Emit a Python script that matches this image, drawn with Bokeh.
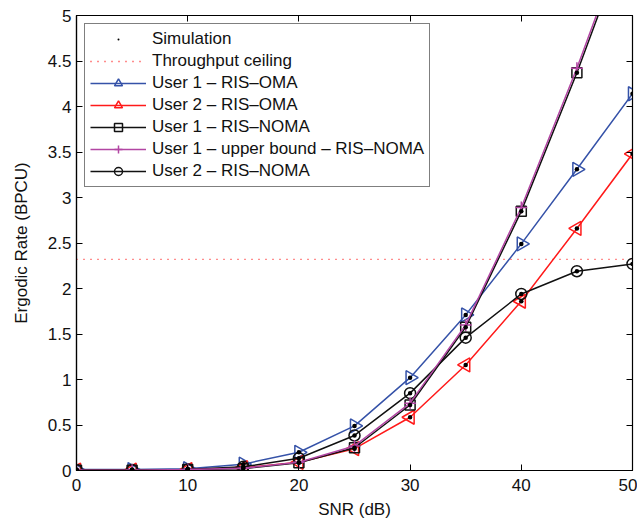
import numpy as np
from bokeh.plotting import figure
from bokeh.models import Range1d, LinearAxis, Legend, LegendItem, FixedTicker
from bokeh.embed import file_html
from bokeh.resources import INLINE

# ---- data ----
snr = [0, 5, 10, 15, 20, 25, 30, 35, 40, 45, 50]
u1_oma = [0.01, 0.01, 0.02, 0.07, 0.20, 0.49, 1.02, 1.71, 2.49, 3.31, 4.14]
u2_oma = [0.005, 0.005, 0.01, 0.03, 0.09, 0.24, 0.585, 1.16, 1.86, 2.66, 3.48]
u1_noma = [0.003, 0.003, 0.01, 0.02, 0.085, 0.25, 0.72, 1.575, 2.85, 4.37, 6.02]
u1_ub = [0.003, 0.003, 0.01, 0.025, 0.09, 0.27, 0.74, 1.60, 2.89, 4.42, 6.08]
u2_noma = [0.005, 0.005, 0.01, 0.04, 0.135, 0.385, 0.85, 1.46, 1.94, 2.19, 2.27]
ceiling_x = [0, 50]
ceiling_y = [2.32, 2.32]
x_ticks = [0, 10, 20, 30, 40, 50]
y_ticks = [0, 0.5, 1, 1.5, 2, 2.5, 3, 3.5, 4, 4.5, 5]

FONT = "Liberation Sans"
FS = "17px"
BLUE = "#3552a8"
RED = "#ff1a1a"
MAG = "#b246a3"
BLK = "#111111"

p = figure(width=637, height=525, x_range=Range1d(0, 50), y_range=Range1d(0, 5),
           output_backend="svg", toolbar_location=None,
           min_border_left=76, min_border_right=5, min_border_top=15, min_border_bottom=55,
           x_axis_label="SNR (dB)", y_axis_label="Ergodic Rate (BPCU)")
p.grid.visible = False
p.outline_line_color = "black"
p.outline_line_width = 1.2
p.background_fill_color = "white"
p.border_fill_color = "white"

for ax in p.xaxis + p.yaxis:
    ax.major_tick_in = 6
    ax.major_tick_out = 0
    ax.minor_tick_in = 0
    ax.minor_tick_out = 0
    ax.axis_line_color = "black"
    ax.axis_line_width = 1.2
    ax.major_label_text_font = FONT
    ax.major_label_text_font_size = FS
    ax.major_label_text_color = "#111111"
    ax.axis_label_text_font = FONT
    ax.axis_label_text_font_size = FS
    ax.axis_label_text_font_style = "normal"
    ax.axis_label_text_color = "#111111"
p.xaxis.ticker = FixedTicker(ticks=x_ticks)
p.yaxis.ticker = FixedTicker(ticks=y_ticks)
p.xaxis.major_label_standoff = 8
p.xaxis.axis_label_standoff = 6
p.yaxis.major_label_standoff = 5
p.yaxis.axis_label_standoff = 14

# mirrored ticks on top and right (no labels)
top = LinearAxis(ticker=FixedTicker(ticks=x_ticks),
                 major_label_overrides={t: "" for t in x_ticks},
                 major_label_standoff=0, major_tick_in=6, major_tick_out=0,
                 minor_tick_in=0, minor_tick_out=0, axis_line_color="black")
right = LinearAxis(ticker=FixedTicker(ticks=y_ticks),
                   major_label_overrides={t: "" for t in y_ticks},
                   major_label_standoff=0, major_tick_in=6, major_tick_out=0,
                   minor_tick_in=0, minor_tick_out=0, axis_line_color="black")
p.add_layout(top, "above")
p.add_layout(right, "right")

LW = 1.5

r_ceil = p.line(ceiling_x, ceiling_y, line_color=RED, line_width=1.3, line_dash="1 6")

# User 1 - RIS-OMA
l1 = p.line(snr, u1_oma, line_color=BLUE, line_width=LW)
m1 = p.scatter(snr, u1_oma, marker="triangle", angle=-np.pi / 2, size=14,
               line_color=BLUE, fill_color=None, line_width=LW)
# User 2 - RIS-OMA
l2 = p.line(snr, u2_oma, line_color=RED, line_width=LW)
m2 = p.scatter(snr, u2_oma, marker="triangle", angle=np.pi / 2, size=14,
               line_color=RED, fill_color=None, line_width=LW)
# User 2 - RIS-NOMA
l5 = p.line(snr, u2_noma, line_color=BLK, line_width=LW)
m5 = p.scatter(snr, u2_noma, marker="circle", size=11,
               line_color=BLK, fill_color=None, line_width=LW)
# User 1 - RIS-NOMA
l3 = p.line(snr, u1_noma, line_color=BLK, line_width=LW)
m3 = p.scatter(snr, u1_noma, marker="square", size=10,
               line_color=BLK, fill_color=None, line_width=LW)
# User 1 - upper bound - RIS-NOMA
l4 = p.line(snr, u1_ub, line_color=MAG, line_width=LW)
m4 = p.scatter(snr, u1_ub, marker="cross", size=12,
               line_color=MAG, line_width=LW)

# simulation dots
sims = []
for ys in (u1_oma, u2_oma, u1_noma, u2_noma):
    sims.append(p.scatter(snr, ys, marker="dot", size=18, line_color="black",
                          fill_color="black"))

legend = Legend(items=[
    LegendItem(label="Simulation", renderers=[sims[0]]),
    LegendItem(label="Throughput ceiling", renderers=[r_ceil]),
    LegendItem(label="User 1 – RIS–OMA", renderers=[l1, m1]),
    LegendItem(label="User 2 – RIS–OMA", renderers=[l2, m2]),
    LegendItem(label="User 1 – RIS–NOMA", renderers=[l3, m3]),
    LegendItem(label="User 1 – upper bound – RIS–NOMA", renderers=[l4, m4]),
    LegendItem(label="User 2 – RIS–NOMA", renderers=[l5, m5]),
], location="top_left")
legend.margin = 8
legend.padding = 5
legend.spacing = 2
legend.glyph_width = 56
legend.glyph_height = 20
legend.label_height = 20
legend.label_standoff = 6
legend.label_text_font = FONT
legend.label_text_font_size = FS
legend.label_text_color = "#111111"
legend.border_line_color = "black"
legend.border_line_width = 1.2
legend.background_fill_alpha = 1.0
p.add_layout(legend)

open("out.html", "w").write(file_html(p, INLINE))
